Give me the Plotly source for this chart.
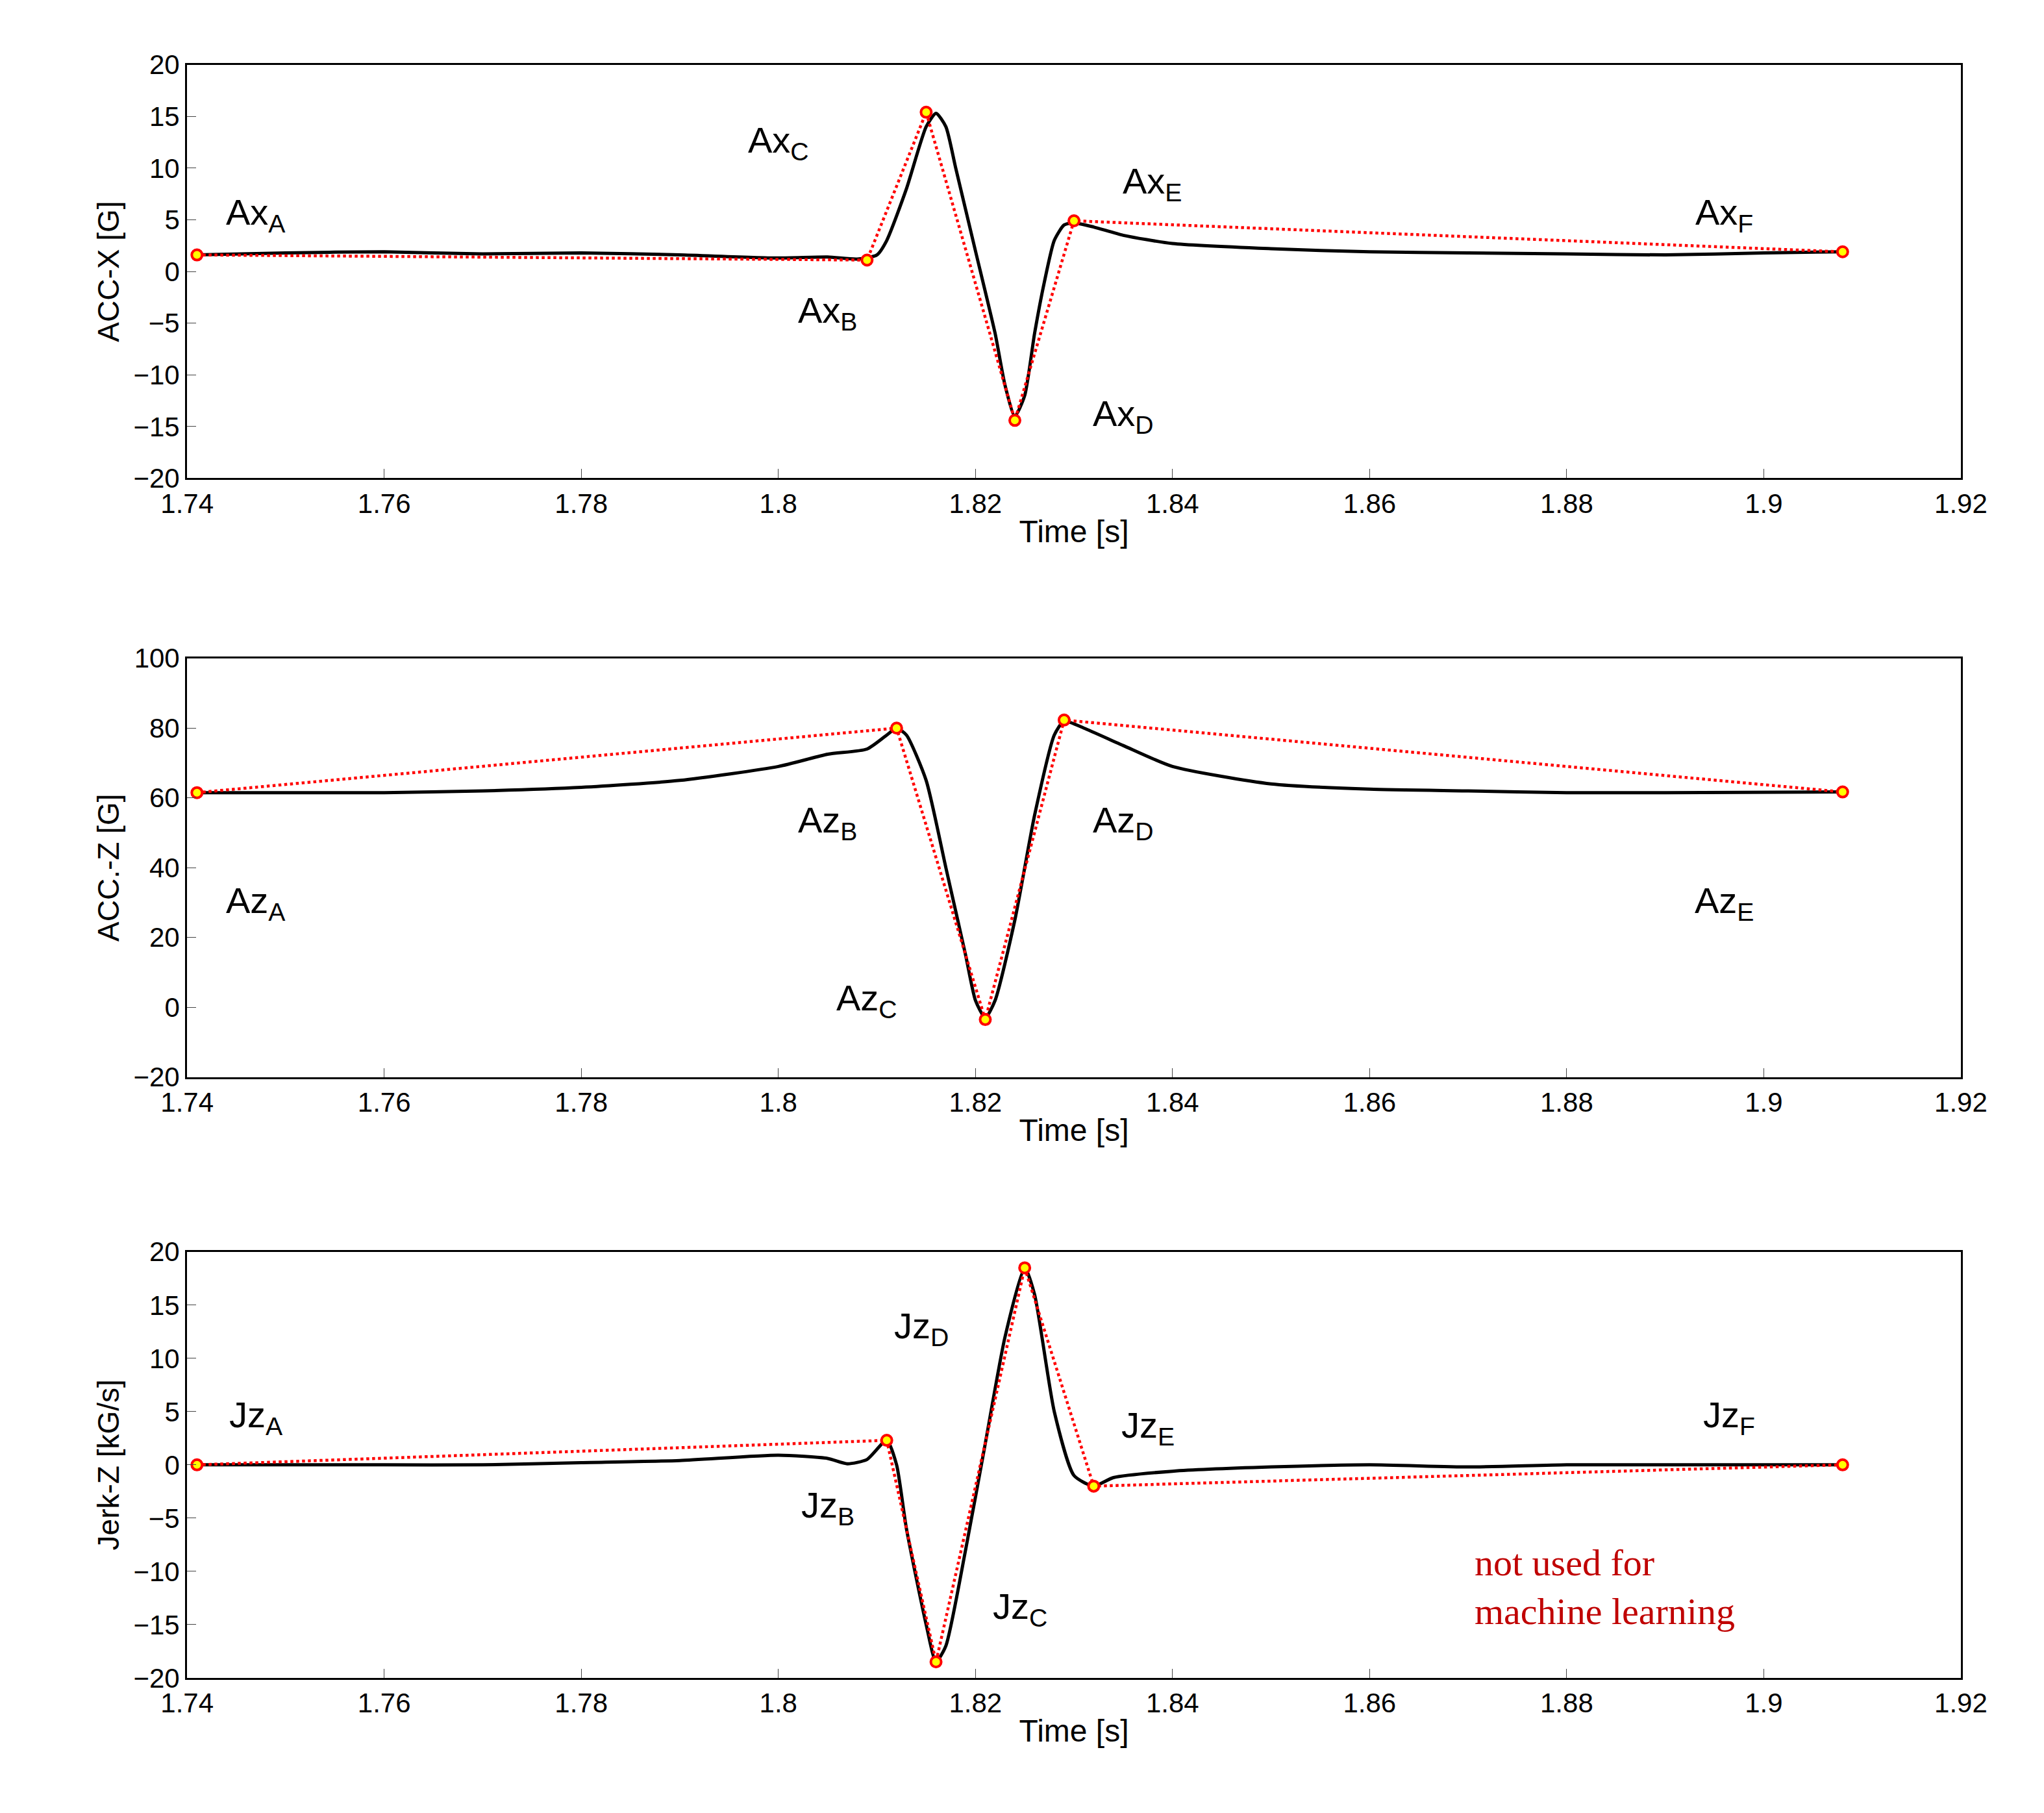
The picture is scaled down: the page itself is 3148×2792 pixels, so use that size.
import plotly.graph_objects as go

# ACC-X
tx = [1.741,1.75,1.76,1.77,1.78,1.79,1.80,1.805,1.808,1.810,1.811,1.813,1.815,1.816,1.817,1.818,1.820,1.822,1.823,1.824,1.825,1.826,1.827,1.828,1.829,1.830,1.832,1.835,1.84,1.85,1.86,1.87,1.88,1.89,1.90,1.908]
ax = [1.6,1.8,1.9,1.7,1.8,1.6,1.3,1.4,1.2,1.6,3,8,14,15.3,14,10,2,-6,-11,-14,-12,-6,-1,3,4.5,4.7,4.3,3.5,2.7,2.2,1.9,1.8,1.7,1.6,1.8,1.9]
px_t = [1.741,1.809,1.815,1.824,1.830,1.908]
px_v = [1.6,1.1,15.4,-14.4,4.9,1.9]
# ACC-Z
tz = [1.741,1.76,1.77,1.78,1.79,1.80,1.805,1.809,1.811,1.812,1.813,1.815,1.817,1.819,1.820,1.821,1.822,1.824,1.826,1.828,1.829,1.831,1.835,1.84,1.85,1.86,1.87,1.88,1.89,1.908]
az = [61.5,61.5,62,63,65,69,72.5,74,78,80,78,65,40,15,2,-3,2,25,55,78,82,80,75,69,64,62.5,62,61.5,61.5,61.7]
pz_t = [1.741,1.812,1.821,1.829,1.908]
pz_v = [61.5,80,-3.5,82.3,61.7]
# Jerk-Z
tj = [1.741,1.76,1.77,1.78,1.79,1.80,1.805,1.807,1.809,1.811,1.812,1.813,1.815,1.816,1.817,1.819,1.821,1.823,1.825,1.826,1.828,1.830,1.832,1.834,1.84,1.85,1.86,1.87,1.88,1.89,1.908]
jz = [0,0,0,0.2,0.4,0.9,0.6,0.1,0.5,2.3,0,-6,-15,-18.5,-17,-8,2,12,18.5,16,5,-1,-2,-1.2,-0.6,-0.2,0,-0.2,0,0,0]
pj_t = [1.741,1.811,1.816,1.825,1.832,1.908]
pj_v = [0,2.3,-18.5,18.5,-2,0]

x_ticks = [1.74,1.76,1.78,1.8,1.82,1.84,1.86,1.88,1.9,1.92]
x_text = ["1.74","1.76","1.78","1.8","1.82","1.84","1.86","1.88","1.9","1.92"]

fig = go.Figure()
domains = [[0.743,0.975],[0.407,0.642],[0.070,0.309]]
sets = [(tx,ax,px_t,px_v),(tz,az,pz_t,pz_v),(tj,jz,pj_t,pj_v)]
ylabels = ["ACC-X [G]","ACC.-Z [G]","Jerk-Z [kG/s]"]
yranges = [[-20,20],[-20,100],[-20,20]]
ydt = [5,20,5]
FAM = "Liberation Sans, Arial"
font = dict(family=FAM, size=42, color="black")
for i,(t,v,pt,pv) in enumerate(sets):
    s = "" if i==0 else str(i+1)
    fig.add_trace(go.Scatter(x=t,y=v,mode="lines",line=dict(color="black",width=5,shape="spline",smoothing=0.6),xaxis="x"+s,yaxis="y"+s,showlegend=False))
    fig.add_trace(go.Scatter(x=pt,y=pv,mode="lines+markers",line=dict(color="red",width=4.5,dash="dot"),
        marker=dict(color="yellow",size=16,line=dict(color="red",width=4)),xaxis="x"+s,yaxis="y"+s,showlegend=False))
    fig.update_layout(**{
        "xaxis"+s: dict(domain=[0.078,0.969],range=[1.74,1.92],tickvals=x_ticks,ticktext=x_text,ticks="inside",ticklen=14,
            showline=True,mirror=True,linecolor="black",linewidth=3,showgrid=False,zeroline=False,tickfont=font,
            title=dict(text="Time [s]",font=dict(family=FAM,size=48,color="black"),standoff=4),anchor="y"+s),
        "yaxis"+s: dict(domain=domains[i],range=yranges[i],dtick=ydt[i],ticks="inside",ticklen=14,
            showline=True,mirror=True,linecolor="black",linewidth=3,showgrid=False,zeroline=False,tickfont=font,
            title=dict(text=ylabels[i],font=dict(family=FAM,size=46,color="black"),standoff=8),anchor="x"+s)})

labels = [
 ("",1.747,5.5,"Ax<sub>A</sub>"),("",1.805,-4,"Ax<sub>B</sub>"),("",1.800,12.5,"Ax<sub>C</sub>"),
 ("",1.835,-14,"Ax<sub>D</sub>"),("",1.838,8.5,"Ax<sub>E</sub>"),("",1.896,5.5,"Ax<sub>F</sub>"),
 ("2",1.747,30,"Az<sub>A</sub>"),("2",1.805,53,"Az<sub>B</sub>"),("2",1.809,2,"Az<sub>C</sub>"),
 ("2",1.835,53,"Az<sub>D</sub>"),("2",1.896,30,"Az<sub>E</sub>"),
 ("3",1.747,4.5,"Jz<sub>A</sub>"),("3",1.805,-4,"Jz<sub>B</sub>"),("3",1.8245,-13.5,"Jz<sub>C</sub>"),
 ("3",1.8145,12.8,"Jz<sub>D</sub>"),("3",1.8375,3.5,"Jz<sub>E</sub>"),("3",1.8965,4.5,"Jz<sub>F</sub>"),
]
for s,x,y,tx_ in labels:
    fig.add_annotation(x=x,y=y,xref="x"+s,yref="y"+s,text=tx_,showarrow=False,
        font=dict(family=FAM,size=56,color="black"))
fig.add_annotation(x=1.8705,y=-11.5,xref="x3",yref="y3",text="not used for<br>machine learning",align="left",xanchor="left",
    showarrow=False,font=dict(family="Liberation Serif, Times New Roman",size=58,color="#c00000"))

fig.update_layout(width=3148,height=2792,margin=dict(l=0,r=0,t=0,b=0),plot_bgcolor="white",paper_bgcolor="white")
fig.write_html("out.html")
